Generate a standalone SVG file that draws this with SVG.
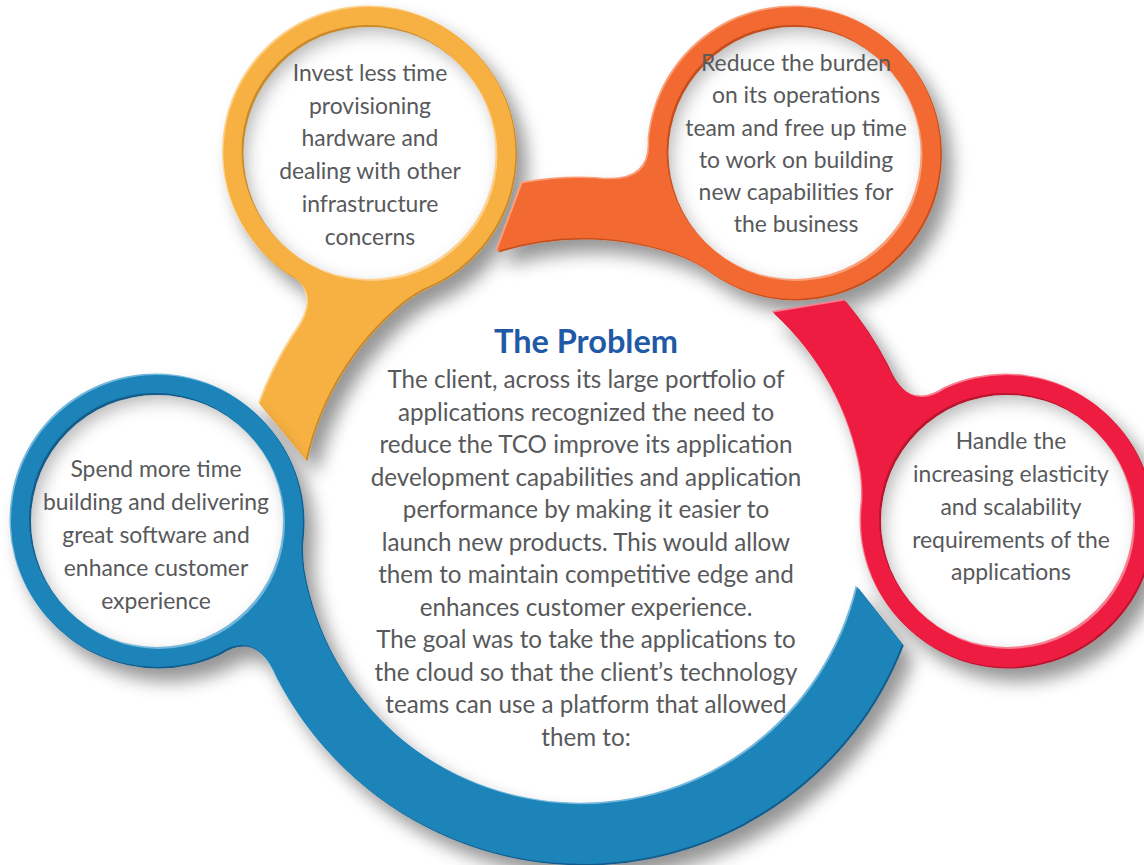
<svg xmlns="http://www.w3.org/2000/svg" xmlns:xlink="http://www.w3.org/1999/xlink" width="1144" height="865" viewBox="0 0 1144 865">
<style>
.t{font-family:Lato,"Open Sans","Liberation Sans",sans-serif;fill:#58595b;text-anchor:middle}
.s{font-size:22.9px}
.b{font-size:24.2px}
.h{font-size:32.5px;font-weight:bold;fill:#1f5aa6}
</style>
<defs>
<filter id="ds" x="-15%" y="-15%" width="135%" height="135%">
<feGaussianBlur in="SourceAlpha" stdDeviation="9"/>
<feOffset dx="10" dy="13"/>
<feComponentTransfer><feFuncA type="linear" slope="0.42"/></feComponentTransfer>
<feMerge><feMergeNode/><feMergeNode in="SourceGraphic"/></feMerge>
</filter>
<filter id="inset" x="-12%" y="-12%" width="124%" height="124%">
<feFlood flood-color="#000" flood-opacity="0.5"/>
<feComposite in2="SourceAlpha" operator="out"/>
<feOffset dx="5" dy="7"/>
<feGaussianBlur stdDeviation="8"/>
<feComposite in2="SourceAlpha" operator="in" result="sh"/>
<feMerge><feMergeNode in="SourceGraphic"/><feMergeNode in="sh"/></feMerge>
</filter>
<path id="pY" d="M259.65 403.67 L305.75 459.72 A283 283 0 0 1 401.19 303.24 Q416.87 291.18 430.94 285.37 A146 146 0 1 0 285.96 272.66 Q326.26 292.46 293.1 336.2 A343 343 0 0 0 259.65 403.67 Z"/>
<path id="pO" d="M522.45 183.17 L496.95 251.12 A283 283 0 0 1 680.19 255.54 Q698.47 263.08 710.54 272.37 A146 146 0 1 0 649.06 140.46 Q652.06 185.26 597.6 178.4 A343 343 0 0 0 522.45 183.17 Z"/>
<path id="pR" d="M844.8 300.5 L773.2 312.4 A283 283 0 0 1 861 473.3 Q863.6 492.9 861.6 508 A146 146 0 1 0 945.1 388.8 Q907.8 413.8 886.5 363.2 A343 343 0 0 0 844.8 300.5 Z"/>
<path id="pB" d="M902.2 643.9 L857.2 587.1 A283 283 0 0 1 303 568.7 Q300.4 549.1 302.4 534 A146 146 0 1 0 218.9 653.2 Q256.2 628.2 277.5 678.8 A343 343 0 0 0 902.2 643.9 Z"/>
</defs>
<rect width="1144" height="865" fill="#fff"/>

<g id="node-yellow" filter="url(#ds)">
<use xlink:href="#pY" fill="#fdd18c" transform="translate(-1.5,-1.5)"/>
<use xlink:href="#pY" fill="#c98a2b" transform="translate(1.5,1.5)"/>
<use xlink:href="#pY" fill="#f7b142"/>
<circle cx="367.5" cy="151" r="126" fill="#c98a2b"/>
<circle cx="371.5" cy="155" r="126" fill="#fdd18c"/>
<circle cx="369.5" cy="153" r="126" fill="#fff" filter="url(#inset)"/>
</g>
<g id="node-orange" filter="url(#ds)">
<use xlink:href="#pO" fill="#f9a07a" transform="translate(-1.5,-1.5)"/>
<use xlink:href="#pO" fill="#c44f1d" transform="translate(1.5,1.5)"/>
<use xlink:href="#pO" fill="#f26a32"/>
<circle cx="792.5" cy="151" r="126" fill="#c44f1d"/>
<circle cx="796.5" cy="155" r="126" fill="#f9a07a"/>
<circle cx="794.5" cy="153" r="126" fill="#fff" filter="url(#inset)"/>
</g>
<g id="node-red" filter="url(#ds)">
<use xlink:href="#pR" fill="#f77d90" transform="translate(-1.5,-1.5)"/>
<use xlink:href="#pR" fill="#b8132d" transform="translate(1.5,1.5)"/>
<use xlink:href="#pR" fill="#ee1f3f"/>
<circle cx="1005" cy="519" r="126" fill="#b8132d"/>
<circle cx="1009" cy="523" r="126" fill="#f77d90"/>
<circle cx="1007" cy="521" r="126" fill="#fff" filter="url(#inset)"/>
</g>
<g id="node-blue" filter="url(#ds)">
<use xlink:href="#pB" fill="#73b7dd" transform="translate(-1.5,-1.5)"/>
<use xlink:href="#pB" fill="#135b8a" transform="translate(1.5,1.5)"/>
<use xlink:href="#pB" fill="#1b84b9"/>
<circle cx="155" cy="519" r="126" fill="#135b8a"/>
<circle cx="159" cy="523" r="126" fill="#73b7dd"/>
<circle cx="157" cy="521" r="126" fill="#fff" filter="url(#inset)"/>
</g>
<g id="connectors"/>

<g id="text-yellow" class="t s">
<text x="370" y="80.5">Invest less time</text>
<text x="370" y="113.5">provisioning</text>
<text x="370" y="146">hardware and</text>
<text x="370" y="179">dealing with other</text>
<text x="370" y="211.5">infrastructure</text>
<text x="370" y="244.5">concerns</text>
</g>
<g id="text-orange" class="t s">
<text x="796" y="70.5">Reduce the burden</text>
<text x="796" y="103">on its operations</text>
<text x="796" y="135.5">team and free up time</text>
<text x="796" y="167.5">to work on building</text>
<text x="796" y="199.5">new capabilities for</text>
<text x="796" y="231.5">the business</text>
</g>
<g id="text-red" class="t s">
<text x="1011" y="448.5">Handle the</text>
<text x="1011" y="481.5">increasing elasticity</text>
<text x="1011" y="514.5">and scalability</text>
<text x="1011" y="547.5">requirements of the</text>
<text x="1011" y="579.5">applications</text>
</g>
<g id="text-blue" class="t s">
<text x="156" y="476.5">Spend more time</text>
<text x="156" y="509.5">building and delivering</text>
<text x="156" y="542.5">great software and</text>
<text x="156" y="575.5">enhance customer</text>
<text x="156" y="608.5">experience</text>
</g>
<g id="center" class="t b">
<text class="t h" x="586" y="353">The Problem</text>
<text x="586" y="388">The client, across its large portfolio of</text>
<text x="586" y="420.5">applications recognized the need to</text>
<text x="586" y="453">reduce the TCO improve its application</text>
<text x="586" y="485.5">development capabilities and application</text>
<text x="586" y="518">performance by making it easier to</text>
<text x="586" y="550.5">launch new products. This would allow</text>
<text x="586" y="583">them to maintain competitive edge and</text>
<text x="586" y="615.5">enhances customer experience.</text>
<text x="586" y="648">The goal was to take the applications to</text>
<text x="586" y="680.5">the cloud so that the client’s technology</text>
<text x="586" y="713">teams can use a platform that allowed</text>
<text x="586" y="745.5">them to:</text>
</g>
</svg>
